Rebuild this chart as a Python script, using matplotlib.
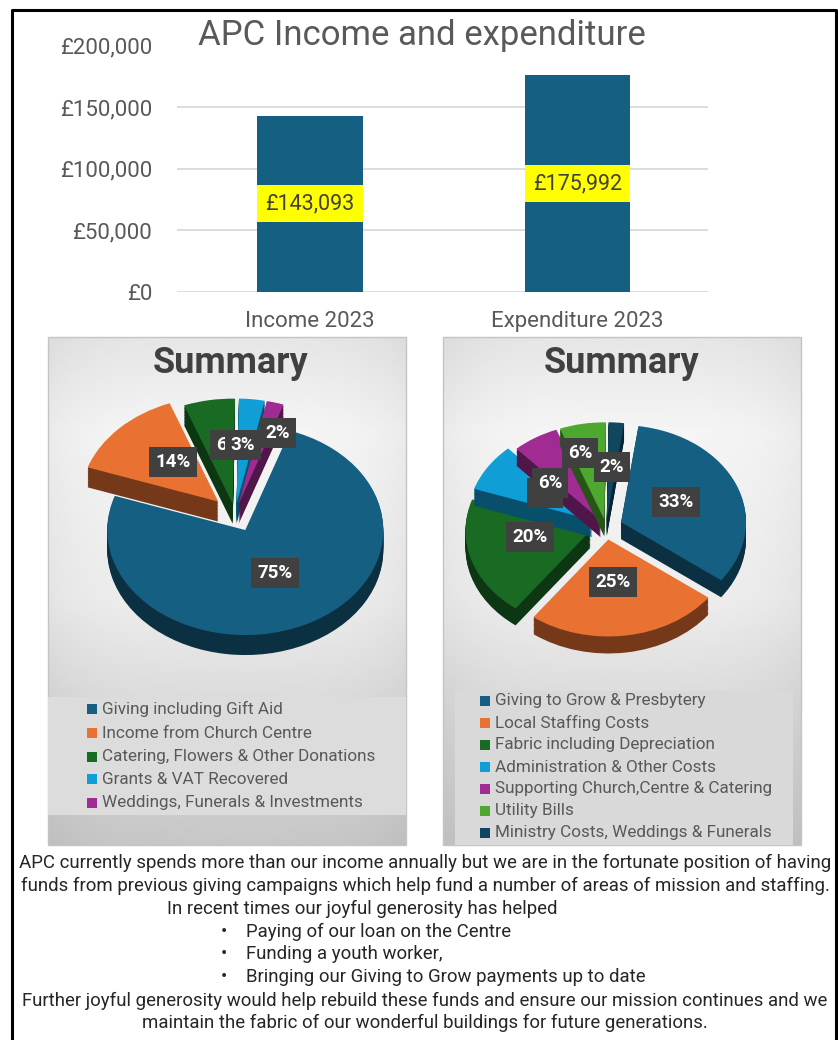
import numpy as np
from matplotlib import pyplot as plt
from matplotlib.colors import to_rgb
from matplotlib.patches import Rectangle

W, H = 838, 1040
plt.rcParams['font.family'] = ['Roboto', 'DejaVu Sans']

# 柱状图数据
bar_names = ['Income 2023', 'Expenditure 2023']
bar_values = [143093, 175992]
y_ticks = [0, 50000, 100000, 150000, 200000]

# 饼图数据
income_names = ['Giving including Gift Aid', 'Income from Church Centre',
                'Catering, Flowers & Other Donations', 'Grants & VAT Recovered',
                'Weddings, Funerals & Investments']
income_values = [75, 14, 6, 3, 2]
income_colors = ['#156082', '#E97132', '#196B24', '#0F9ED5', '#A02B93']

spend_names = ['Giving to Grow & Presbytery', 'Local Staffing Costs',
               'Fabric including Depreciation', 'Administration & Other Costs',
               'Supporting Church,Centre & Catering', 'Utility Bills',
               'Ministry Costs, Weddings & Funerals']
spend_values = [33, 25, 20, 8, 6, 6, 2]
spend_colors = ['#156082', '#E97132', '#196B24', '#0F9ED5', '#A02B93', '#4EA72E', '#0F4761']

body_lines = ['APC currently spends more than our income annually but we are in the fortunate position of having',
              'funds from previous giving campaigns which help fund a number of areas of mission and staffing.',
              'In recent times our joyful generosity has helped',
              'Paying of our loan on the Centre',
              'Funding a youth worker,',
              'Bringing our Giving to Grow payments up to date',
              'Further joyful generosity would help rebuild these funds and ensure our mission continues and we',
              'maintain the fabric of our wonderful buildings for future generations.']


def px_axes(x0, y0, x1, y1):
    # 按像素坐标建立子图
    return fig.add_axes([x0 / W, 1 - y1 / H, (x1 - x0) / W, (y1 - y0) / H])


def draw_pie(box, center, rx, ry, values, colors, start, explode, order, depth):
    ax = px_axes(*box)
    n = 14
    dark = [tuple(c * 0.5 for c in to_rgb(h)) for h in colors]
    for k in range(n + 1):
        off = -depth / ry * (n - k) / n
        cols = colors if k == n else dark
        wedges, _ = ax.pie(values, colors=cols, startangle=90 - start, counterclock=False,
                           explode=explode, center=(0, off), radius=1)
        for w, o in zip(wedges, order):
            w.set_zorder(o + k / 100)
    ax.set_aspect('auto')
    ax.set_xlim((box[0] - center[0]) / rx, (box[2] - center[0]) / rx)
    ax.set_ylim((center[1] - box[3]) / ry, (center[1] - box[1]) / ry)
    ax.axis('off')


fig = plt.figure(figsize=(W / 100, H / 100), dpi=100, facecolor='white')

# 背景层：面板渐变和外框
bg = px_axes(0, 0, W, H)
for x0, x1 in [(48, 406), (443, 801)]:
    ys = np.linspace(337, 845, 200)
    shade = np.interp(ys, [337, 430, 600, 700, 845], [0.90, 0.96, 0.93, 0.86, 0.78])
    xs = np.linspace(-1, 1, 100)
    edge = 1 - 0.04 * xs ** 4
    bg.imshow(np.outer(shade, edge), cmap='gray', vmin=0, vmax=1, aspect='auto',
              extent=(x0, x1, 845, 337), zorder=1)
    bg.add_patch(Rectangle((x0, 337), x1 - x0, 508, fill=False, ec='#c4c4c4', lw=1, zorder=2))
bg.add_patch(Rectangle((48, 697), 358, 118, fc='#dcdcdc', ec='none', zorder=2))
bg.add_patch(Rectangle((455, 691), 338, 154, fc='#d9d9d9', ec='none', zorder=2))
bg.plot([12, 12, 835.5, 835.5], [1040, 10, 10, 1040], color='black', lw=2.2, zorder=3)
bg.set_xlim(0, W)
bg.set_ylim(H, 0)
bg.axis('off')

# 柱状图
ax = px_axes(177, 45.5, 708, 292)
ax.patch.set_alpha(0)
ax.bar(range(2), bar_values, width=0.395, color='#156082', zorder=3)
for i, v in enumerate(bar_values):
    ax.text(i, v / 2, f'£{v:,}', ha='center', va='center', fontsize=15.5, color='#404040', zorder=4,
            bbox=dict(fc='#FFFF00', ec='none', boxstyle='square,pad=0.38'))
ax.set_xlim(-0.497, 1.488)
ax.set_ylim(0, 200000)
ax.set_yticks(y_ticks, [f'£{t:,}' for t in y_ticks])
ax.set_xticks(range(2), bar_names)
ax.tick_params(length=0, labelsize=16, labelcolor='#595959')
ax.tick_params(axis='y', pad=18)
ax.tick_params(axis='x', pad=14)
ax.grid(axis='y', color='#d9d9d9', lw=1.3, zorder=0)
for s in ax.spines.values():
    s.set_visible(False)

# 两个饼图
draw_pie((48, 337, 406, 845), (235, 514), 138, 105, income_values, income_colors, 19,
         [0.17, 0.17, 0.10, 0.10, 0.10], [1, 2, 3, 4, 5], 20)
draw_pie((443, 337, 801, 845), (606, 527), 125, 97, spend_values, spend_colors, 8,
         [0.13, 0.13, 0.13, 0.13, 0.08, 0.08, 0.08], [1, 7, 2, 3, 4, 5, 6], 17)

# 前景层：文字
fg = px_axes(0, 0, W, H)
fg.set_xlim(0, W)
fg.set_ylim(H, 0)
fg.axis('off')
fg.patch.set_alpha(0)

fg.text(422, 36, 'APC Income and expenditure', ha='center', va='center', fontsize=25, color='#595959')
for cx in [231, 622]:
    fg.text(cx, 363, 'Summary', ha='center', va='center', fontsize=26, fontweight='bold', color='#404040')

# 数据标签（后画的盖住先画的）
income_pos = [(275, 573), (173, 462), (228, 445), (243, 445), (278, 433)]
spend_pos = [(676, 502), (613, 582), (530, 537), (545, 493), (550, 483), (580, 453), (612, 467)]
for values, pos, order in [(income_values, income_pos, [0, 1, 2, 3, 4]),
                           (spend_values, spend_pos, [0, 1, 2, 3, 4, 6, 5])]:
    for i in order:
        fg.text(pos[i][0], pos[i][1], f'{values[i]}%', ha='center', va='center', fontsize=13.5,
                fontweight='bold', color='white',
                bbox=dict(fc='#404040', ec='none', boxstyle='square,pad=0.32'))

# 图例
income_y = [709, 733, 757, 779, 803]
spend_y = [701, 723, 745, 767, 789, 811, 833]
for names, colors, ys, sq_x in [(income_names, income_colors, income_y, 87),
                                (spend_names, spend_colors, spend_y, 480)]:
    for name, c, y in zip(names, colors, ys):
        fg.add_patch(Rectangle((sq_x, y - 5), 10, 10, fc=c, ec='none'))
        fg.text(sq_x + 15, y, name, va='center', fontsize=12.3, color='#595959')

# 底部文字
body_y = [863, 886, 909, 932, 954, 977, 1001, 1023]
for i, (line, y) in enumerate(zip(body_lines, body_y)):
    if i == 2:
        fg.text(167, y, line, va='center', fontsize=13.4, color='#262626')
    elif i in (3, 4, 5):
        fg.text(224, y, '•', ha='center', va='center', fontsize=13.4, color='#262626')
        fg.text(246, y, line, va='center', fontsize=13.4, color='#262626')
    else:
        fg.text(425, y, line, ha='center', va='center', fontsize=13.4, color='#262626')

fig.savefig('out.png', dpi=100)
